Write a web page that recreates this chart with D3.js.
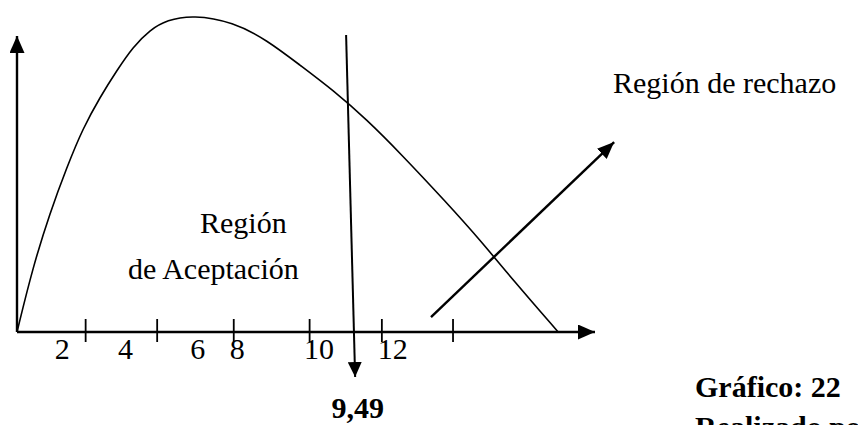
<!DOCTYPE html>
<html>
<head>
<meta charset="utf-8">
<script src="https://cdn.jsdelivr.net/npm/d3@7"></script>
<style>
  body { margin: 0; background: #fff; }
  svg { display: block; }
  text { font-family: "Liberation Serif", "Times New Roman", serif; fill: #000; }
</style>
</head>
<body>
<div id="container"></div>
<script>
// curve (x in chi-square units, y as relative height)
var curveX = [0, 0.44, 0.91, 1.38, 1.83, 2.30, 2.77, 3.21, 3.68, 4.15, 4.87, 5.98, 6.92, 7.83, 8.75, 9.69, 10.60, 11.90, 12.82, 13.73, 14.98];
var curveY = [0, 0.205, 0.375, 0.52, 0.644, 0.741, 0.826, 0.899, 0.953, 0.984, 1.0, 0.978, 0.921, 0.842, 0.763, 0.669, 0.565, 0.407, 0.290, 0.164, 0];

// axis tick marks and the (hand placed) labels under them
var tickAt = [1.9, 3.88, 6.0, 8.1, 10.1, 12.07];
var labelAt = [1.25, 3.0, 5.0, 6.1, 8.36, 10.4];
var labelText = ["2", "4", "6", "8", "10", "12"];

// critical value arrow and the rejection region arrow
var critValue = "9,49";
var critLine = [[9.11, 0.937], [9.36, -0.142]];
var rejectLine = [[11.46, 0.047], [16.53, 0.599]];

var xMax = 16;     // end of x axis
var yMax = 0.934;  // end of y axis

(function () {
    var width = 858;
    var height = 425;

    var svg = d3.select('#container')
        .append("svg")
        .attr("width", width)
        .attr("height", height);

    var x = d3.scaleLinear().domain([0, 16]).range([17, 595]);
    var y = d3.scaleLinear().domain([0, 1]).range([332, 15]);

    // arrow heads
    var defs = svg.append("defs");
    function marker(id, len, wid) {
        defs.append("marker")
            .attr("id", id)
            .attr("markerUnits", "userSpaceOnUse")
            .attr("markerWidth", len)
            .attr("markerHeight", wid)
            .attr("refX", len)
            .attr("refY", wid / 2)
            .attr("orient", "auto")
            .append("path")
            .attr("d", "M0,0L" + len + "," + (wid / 2) + "L0," + wid + "Z")
            .attr("fill", "#000");
    }
    marker("axisHead", 17, 15);
    marker("critHead", 15, 14);
    marker("rejHead", 17, 14);

    var lineGen = d3.line()
        .x(function (d) { return x(d[0]); })
        .y(function (d) { return y(d[1]); });

    // x axis
    svg.append("path")
        .attr("d", lineGen([[0, 0], [xMax, 0]]))
        .attr("stroke", "#000").attr("stroke-width", 2.4).attr("fill", "none")
        .attr("marker-end", "url(#axisHead)");

    // y axis
    svg.append("path")
        .attr("d", lineGen([[0, 0], [0, yMax]]))
        .attr("stroke", "#000").attr("stroke-width", 2.4).attr("fill", "none")
        .attr("marker-end", "url(#axisHead)");

    // ticks
    svg.selectAll(".tick")
        .data(tickAt)
        .enter()
        .append("line")
        .attr("class", "tick")
        .attr("x1", function (d) { return x(d); })
        .attr("x2", function (d) { return x(d); })
        .attr("y1", y(0) - 13)
        .attr("y2", y(0) + 10)
        .attr("stroke", "#000")
        .attr("stroke-width", 1.8);

    // tick labels
    svg.selectAll(".tlabel")
        .data(labelAt)
        .enter()
        .append("text")
        .attr("class", "tlabel")
        .attr("x", function (d) { return x(d); })
        .attr("y", 359)
        .attr("text-anchor", "middle")
        .style("font-size", "30px")
        .text(function (d, i) { return labelText[i]; });

    // the density curve (smoothed through the read points)
    var pts = curveX.map(function (d, i) { return [d, curveY[i]]; });
    svg.append("path")
        .attr("d", d3.line()
            .x(function (d) { return x(d[0]); })
            .y(function (d) { return y(d[1]); })
            .curve(d3.curveBasis)(pts))
        .attr("stroke", "#000").attr("stroke-width", 1.6).attr("fill", "none");

    // critical value arrow
    svg.append("path")
        .attr("d", lineGen(critLine))
        .attr("stroke", "#000").attr("stroke-width", 2).attr("fill", "none")
        .attr("marker-end", "url(#critHead)");

    // rejection region arrow
    svg.append("path")
        .attr("d", lineGen(rejectLine))
        .attr("stroke", "#000").attr("stroke-width", 2.4).attr("fill", "none")
        .attr("marker-end", "url(#rejHead)");

    // texts
    svg.append("text").attr("x", 200).attr("y", 233)
        .style("font-size", "30px").text("Región");
    svg.append("text").attr("x", 128).attr("y", 279)
        .style("font-size", "30px").text("de Aceptación");
    svg.append("text").attr("x", 613).attr("y", 93)
        .style("font-size", "30px").text("Región de rechazo");
    svg.append("text").attr("x", x(9.49) - 2).attr("y", 418)
        .attr("text-anchor", "middle")
        .style("font-size", "30px").style("font-weight", "bold").text(critValue);
    svg.append("text").attr("x", 695).attr("y", 397)
        .style("font-size", "30px").style("font-weight", "bold").text("Gráfico: 22");
    svg.append("text").attr("x", 695).attr("y", 437)
        .style("font-size", "30px").style("font-weight", "bold").text("Realizado por");
})();
</script>
</body>
</html>
